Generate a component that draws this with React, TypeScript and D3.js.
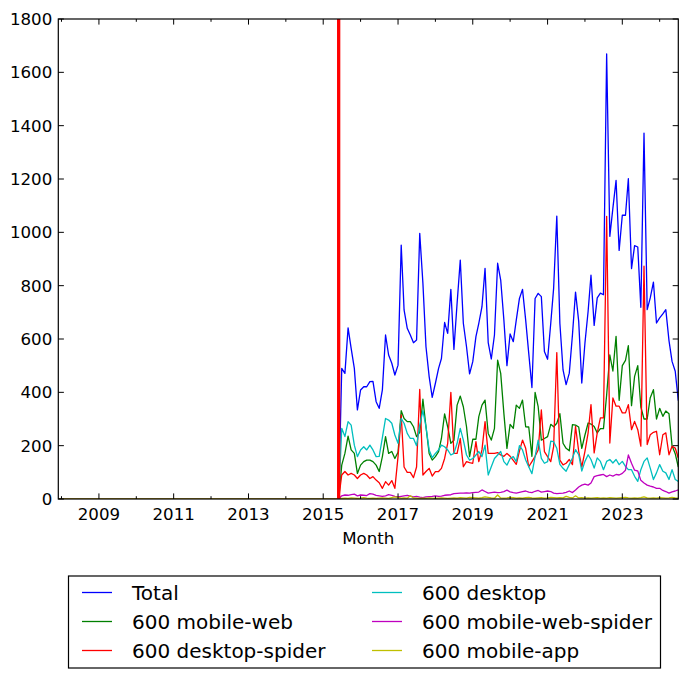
import React from "react";
import * as d3 from "d3";

const W = 687;
const H = 679;
const PLOT = { left: 58.3, right: 678.3, top: 19, bottom: 499 };

// Month range of the x axis
const firstMonth = new Date(2007, 11, 1);
const lastMonth = new Date(2024, 6, 1);
const markerMonth = new Date(2015, 5, 1); // vertical red marker
const leadingZeroMonths = 91; // Dec 2007 .. Jun 2015: all series at 0

// Values from Jul 2015 to Jul 2024 (109 months)
const total = [
  490, 471, 642, 565, 490, 334, 409, 421, 421, 440, 441, 365, 340, 409, 615, 540, 509, 465, 502, 952,
  709, 640, 615, 586, 596, 996, 809, 571, 459, 381, 434, 490, 527, 662, 621, 786,
  561, 734, 896, 659, 571, 469, 515, 609, 659, 721, 865, 586, 525, 615, 884, 821, 671, 500, 619, 590,
  671, 752, 786, 671, 546, 418, 752, 771, 759, 553, 524, 659, 790, 1061, 659, 484,
  429, 472, 616, 776, 666, 435, 585, 704, 839, 651, 754, 772, 766, 1669, 985, 1091, 1195, 932, 1064,
  1064, 1201, 864, 950, 945, 719, 1372, 710, 754, 813, 660, 679, 694, 710, 594, 516, 479, 369,
];
const mobileWeb = [
  127, 171, 236, 184, 171, 96, 127, 140, 146, 146, 140, 127, 103, 159, 234, 171, 178, 152, 175, 331,
  302, 290, 290, 271, 234, 250, 374, 271, 171, 146, 159, 178, 227, 319, 271, 209,
  220, 352, 386, 346, 271, 159, 224, 224, 309, 352, 371, 246, 221, 265, 521, 471, 321, 190, 280, 265,
  352, 340, 371, 271, 270, 160, 400, 346, 221, 227, 234, 280, 271, 284, 320, 209,
  190, 181, 279, 277, 270, 190, 240, 285, 281, 272, 248, 264, 264, 390, 540, 480, 610, 370, 500,
  520, 575, 350, 460, 500, 345, 300, 300, 380, 410, 300, 340, 310, 330, 320, 200, 170, 120,
];
const desktopSpider = [
  90, 103, 90, 96, 90, 77, 90, 96, 90, 77, 84, 71, 61, 40, 65, 52, 69, 40, 159, 315,
  120, 100, 100, 80, 120, 411, 90, 103, 115, 86, 103, 103, 115, 152, 209, 400,
  171, 171, 227, 121, 140, 136, 134, 215, 140, 184, 290, 171, 171, 171, 174, 165, 160, 171, 160, 145,
  130, 180, 221, 190, 121, 140, 160, 184, 334, 178, 159, 140, 196, 549, 146, 128,
  134, 148, 129, 272, 179, 120, 179, 248, 354, 173, 248, 304, 304, 1060, 210, 379, 348, 348, 323,
  323, 354, 260, 291, 260, 198, 873, 204, 241, 250, 254, 166, 241, 248, 166, 198, 191, 154,
];
const desktop = [
  265, 234, 290, 277, 202, 159, 184, 196, 184, 202, 184, 159, 160, 230, 302, 296, 284, 240, 209, 302,
  284, 246, 227, 227, 200, 277, 331, 271, 184, 155, 171, 184, 202, 196, 184, 165,
  171, 209, 265, 221, 165, 146, 152, 165, 178, 159, 202, 90, 121, 152, 165, 178, 140, 127, 152, 159,
  140, 200, 184, 146, 121, 95, 159, 221, 152, 134, 140, 217, 215, 190, 130, 115,
  104, 129, 154, 185, 166, 105, 141, 166, 148, 116, 154, 141, 110, 141, 148, 135, 148, 129, 141,
  122, 110, 110, 85, 66, 110, 141, 154, 116, 73, 98, 129, 104, 98, 73, 110, 73, 66,
];
const mobileWebSpider = [
  12, 15, 14, 16, 18, 12, 15, 14, 13, 20, 18, 14, 12, 10, 12, 16, 14, 10, 8, 10,
  12, 14, 11, 8, 10, 7, 5, 8, 9, 10, 12, 10, 11, 14, 15, 16,
  20, 21, 22, 22, 23, 22, 24, 25, 26, 34, 28, 22, 24, 26, 24, 25, 28, 33, 27, 24,
  22, 25, 28, 30, 26, 24, 29, 32, 26, 28, 30, 28, 22, 20, 21, 22,
  25, 30, 24, 34, 45, 52, 56, 52, 60, 84, 88, 90, 92, 84, 90, 86, 92, 90, 96,
  108, 165, 134, 108, 105, 70, 60, 52, 48, 45, 40, 40, 32, 28, 22, 27, 30, 34,
];
const mobileApp = [
  2, 3, 2, 4, 3, 2, 3, 5, 3, 2, 3, 2, 3, 4, 3, 2, 5, 8, 6, 3,
  4, 3, 12, 4, 3, 2, 3, 2, 4, 3, 2, 3, 4, 3, 2, 3,
  4, 3, 5, 4, 3, 6, 5, 4, 3, 5, 8, 6, 4, 3, 15, 4, 3, 4, 6, 5,
  3, 4, 3, 5, 6, 4, 3, 4, 5, 3, 4, 6, 5, 4, 5, 4,
  10, 6, 4, 12, 4, 5, 3, 4, 3, 4, 5, 3, 4, 3, 5, 4, 3, 4, 5,
  6, 4, 3, 4, 3, 5, 8, 4, 3, 4, 3, 5, 4, 3, 4, 6, 4, 3,
];

const seriesNames = [
  "Total",
  "600 mobile-web",
  "600 desktop-spider",
  "600 desktop",
  "600 mobile-web-spider",
  "600 mobile-app",
];
const seriesValues = [total, mobileWeb, desktopSpider, desktop, mobileWebSpider, mobileApp];
const seriesColors = ["#0000ff", "#008000", "#ff0000", "#00bfbf", "#bf00bf", "#bfbf00"];

const yTicks = [0, 200, 400, 600, 800, 1000, 1200, 1400, 1600, 1800];
const xMajorYears = [2009, 2011, 2013, 2015, 2017, 2019, 2021, 2023];
const xMinorYears = [2008, 2010, 2012, 2014, 2016, 2018, 2020, 2022, 2024];

const FONT = "DejaVu Sans";

export default function App() {
  const months = d3.timeMonth.range(firstMonth, d3.timeMonth.offset(lastMonth, 1));
  const x = d3.scaleTime().domain([firstMonth, lastMonth]).range([PLOT.left, PLOT.right]);
  const y = d3.scaleLinear().domain([0, 1800]).range([PLOT.bottom, PLOT.top]);

  const zeros = new Array(leadingZeroMonths).fill(0);
  const series = seriesValues.map((vals) => zeros.concat(vals));

  const line = d3
    .line<number>()
    .x((_, i) => x(months[i]))
    .y((d) => y(d));

  const majorLen = 5.6;
  const minorLen = 2.8;

  // legend layout
  const legendBox = { x: 68.5, y: 576, w: 592, h: 92 };
  const colX = [82, 372];
  const rowY = [592.5, 621.5, 650.5];

  return (
    <svg
      width={W}
      height={H}
      style={{ position: "absolute", left: 0, top: 0, background: "#fff" }}
      fontFamily={FONT}
    >
      <rect x={0} y={0} width={W} height={H} fill="#fff" />
      <defs>
        <clipPath id="plotclip">
          <rect
            x={PLOT.left}
            y={PLOT.top}
            width={PLOT.right - PLOT.left}
            height={PLOT.bottom - PLOT.top}
          />
        </clipPath>
      </defs>

      <g clipPath="url(#plotclip)">
        {series.map((s, i) => (
          <path
            key={seriesNames[i]}
            d={line(s) || ""}
            fill="none"
            stroke={seriesColors[i]}
            strokeWidth={1.3}
            strokeLinejoin="round"
          />
        ))}
        <line
          x1={x(markerMonth)}
          x2={x(markerMonth)}
          y1={PLOT.top}
          y2={PLOT.bottom}
          stroke="#ff0000"
          strokeWidth={3.3}
        />
      </g>

      {/* spines */}
      <rect
        x={PLOT.left}
        y={PLOT.top}
        width={PLOT.right - PLOT.left}
        height={PLOT.bottom - PLOT.top}
        fill="none"
        stroke="#000"
        strokeWidth={1.2}
      />

      {/* y ticks */}
      {yTicks.map((t) => (
        <g key={"y" + t}>
          <line x1={PLOT.left} x2={PLOT.left + majorLen} y1={y(t)} y2={y(t)} stroke="#000" strokeWidth={1} />
          <line x1={PLOT.right} x2={PLOT.right - majorLen} y1={y(t)} y2={y(t)} stroke="#000" strokeWidth={1} />
          <text
            x={PLOT.left - 6}
            y={y(t)}
            dy="0.36em"
            textAnchor="end"
            fontSize={16.67}
            fill="#000"
          >
            {t}
          </text>
        </g>
      ))}

      {/* x ticks */}
      {xMajorYears.map((yr) => {
        const px = x(new Date(yr, 0, 1));
        return (
          <g key={"xm" + yr}>
            <line x1={px} x2={px} y1={PLOT.bottom} y2={PLOT.bottom - majorLen} stroke="#000" strokeWidth={1} />
            <line x1={px} x2={px} y1={PLOT.top} y2={PLOT.top + majorLen} stroke="#000" strokeWidth={1} />
            <text x={px} y={PLOT.bottom + 20.5} textAnchor="middle" fontSize={16.67} fill="#000">
              {yr}
            </text>
          </g>
        );
      })}
      {xMinorYears.map((yr) => {
        const px = x(new Date(yr, 0, 1));
        return (
          <g key={"xn" + yr}>
            <line x1={px} x2={px} y1={PLOT.bottom} y2={PLOT.bottom - minorLen} stroke="#000" strokeWidth={1} />
            <line x1={px} x2={px} y1={PLOT.top} y2={PLOT.top + minorLen} stroke="#000" strokeWidth={1} />
          </g>
        );
      })}

      <text
        x={(PLOT.left + PLOT.right) / 2}
        y={544}
        textAnchor="middle"
        fontSize={16.67}
        fill="#000"
      >
        Month
      </text>

      {/* legend */}
      <rect
        x={legendBox.x}
        y={legendBox.y}
        width={legendBox.w}
        height={legendBox.h}
        fill="#fff"
        stroke="#000"
        strokeWidth={1.2}
      />
      {seriesNames.map((name, i) => {
        const col = Math.floor(i / 3);
        const row = i % 3;
        const lx = colX[col];
        const ly = rowY[row];
        return (
          <g key={"lg" + name}>
            <line x1={lx} x2={lx + 30} y1={ly} y2={ly} stroke={seriesColors[i]} strokeWidth={1.3} />
            <text x={lx + 50} y={ly} dy="0.35em" fontSize={20} fill="#000">
              {name}
            </text>
          </g>
        );
      })}
    </svg>
  );
}
